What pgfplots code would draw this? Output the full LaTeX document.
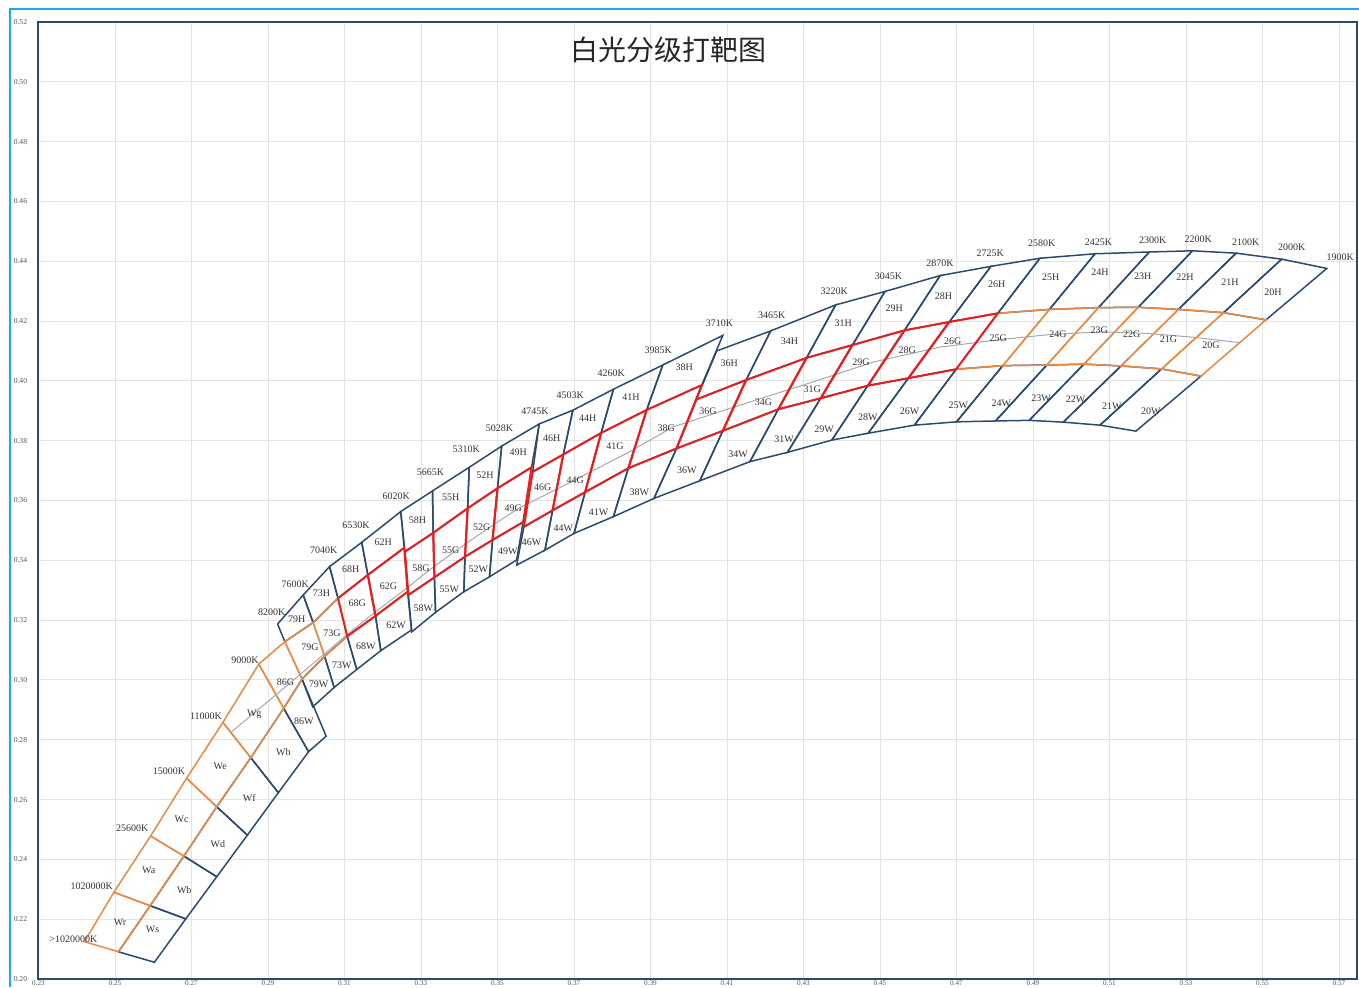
\documentclass[border=0pt]{standalone}
\usepackage{fontspec}
\setmainfont{Liberation Serif}
\newfontfamily\cjk{Noto Sans CJK SC}
\usepackage{pgfplots}
\pgfplotsset{compat=1.18}
\definecolor{nv}{HTML}{2C4A6E}
\definecolor{rd}{HTML}{E3201F}
\definecolor{og}{HTML}{E98A45}
\definecolor{gy}{HTML}{A8A8A8}
\definecolor{gridc}{HTML}{E4E4E4}
\definecolor{cy}{HTML}{1AAEE8}
\definecolor{txt}{HTML}{333333}
\definecolor{tickc}{HTML}{555555}
\tikzset{
  nvs/.style={draw=nv, line width=0.75pt},
  ogs/.style={draw=og, line width=0.75pt},
  rds/.style={draw=rd, line width=1pt},
  lab/.style={font=\fontsize{5}{6}\selectfont, text=txt, inner sep=0pt},
}
% ---- isotherm points (x,y) : T=top, H=H/G border, G=G/W border, B=bottom
\def\QaL{(0.2420,0.2125)}\def\QaM{(0.2509,0.2091)}\def\QaR{(0.2603,0.2056)}
\def\QbL{(0.2497,0.2290)}\def\QbM{(0.2592,0.2245)}\def\QbR{(0.2685,0.2201)}
\def\QcL{(0.2593,0.2478)}\def\QcM{(0.2680,0.2411)}\def\QcR{(0.2766,0.2342)}
\def\QdL{(0.2687,0.2671)}\def\QdM{(0.2766,0.2576)}\def\QdR{(0.2846,0.2481)}
\def\QeL{(0.2782,0.2858)}\def\QeM{(0.2855,0.2740)}\def\QeR{(0.2927,0.2623)}
\def\QfL{(0.2876,0.3053)}\def\QfM{(0.2941,0.2905)}\def\QfR{(0.3006,0.2760)}
\def\QgT{(0.2925,0.3187)}\def\QgH{(0.2944,0.3128)}\def\QgG{(0.2989,0.3003)}\def\QgB{(0.3017,0.2910)}\def\QgX{(0.3052,0.2812)}
\def\QhT{(0.2992,0.3284)}\def\QhH{(0.3018,0.3192)}\def\QhG{(0.3048,0.3079)}\def\QhB{(0.3073,0.2975)}
\def\QiT{(0.3061,0.3379)}\def\QiH{(0.3083,0.3273)}\def\QiG{(0.3107,0.3146)}\def\QiB{(0.3132,0.3035)}
\def\QjT{(0.3145,0.3460)}\def\QjH{(0.3161,0.3351)}\def\QjG{(0.3181,0.3214)}\def\QjB{(0.3195,0.3098)}
\def\QkaT{(0.3247,0.3563)}\def\QkaH{(0.3256,0.3442)}\def\QkaG{(0.3265,0.3295)}\def\QkaB{(0.3275,0.3167)}
\def\QkbT{(0.3247,0.3563)}\def\QkbH{(0.3258,0.3429)}\def\QkbG{(0.3267,0.3284)}\def\QkbB{(0.3276,0.3161)}
\def\QlT{(0.3330,0.3632)}\def\QlH{(0.3332,0.3492)}\def\QlG{(0.3335,0.3343)}\def\QlB{(0.3338,0.3226)}
\def\QmT{(0.3426,0.3711)}\def\QmH{(0.3422,0.3574)}\def\QmG{(0.3415,0.3412)}\def\QmB{(0.3412,0.3295)}
\def\QnT{(0.3511,0.3782)}\def\QnH{(0.3500,0.3641)}\def\QnG{(0.3487,0.3468)}\def\QnB{(0.3479,0.3345)}
\def\QoaT{(0.3609,0.3856)}\def\QoaH{(0.3589,0.3711)}\def\QoaG{(0.3567,0.3528)}\def\QoaB{(0.3550,0.3401)}
\def\QobT{(0.3609,0.3856)}\def\QobH{(0.3592,0.3696)}\def\QobG{(0.3569,0.3512)}\def\QobB{(0.3550,0.3384)}
\def\QpT{(0.3697,0.3902)}\def\QpH{(0.3672,0.3754)}\def\QpG{(0.3644,0.3567)}\def\QpB{(0.3624,0.3434)}
\def\QqT{(0.3803,0.3972)}\def\QqH{(0.3771,0.3826)}\def\QqG{(0.3729,0.3628)}\def\QqB{(0.3700,0.3490)}
\def\QrT{(0.3932,0.4053)}\def\QrH{(0.3890,0.3903)}\def\QrG{(0.3842,0.3708)}\def\QrB{(0.3803,0.3546)}
\def\QsaT{(0.4089,0.4152)}\def\QsaH{(0.4034,0.3986)}\def\QsaG{(0.3968,0.3774)}\def\QsaB{(0.3909,0.3607)}
\def\QsbT{(0.4073,0.4100)}\def\QsbH{(0.4020,0.3938)}\def\QsbG{(0.3968,0.3774)}\def\QsbB{(0.3909,0.3607)}
\def\QtT{(0.4214,0.4167)}\def\QtH{(0.4150,0.4003)}\def\QtG{(0.4089,0.3833)}\def\QtB{(0.4029,0.3666)}
\def\QuT{(0.4384,0.4254)}\def\QuH{(0.4308,0.4077)}\def\QuG{(0.4234,0.3905)}\def\QuB{(0.4160,0.3730)}
\def\QvT{(0.4513,0.4299)}\def\QvH{(0.4428,0.4120)}\def\QvG{(0.4345,0.3942)}\def\QvB{(0.4258,0.3761)}
\def\QwT{(0.4657,0.4352)}\def\QwH{(0.4564,0.4169)}\def\QwG{(0.4468,0.3984)}\def\QwB{(0.4374,0.3802)}
\def\QxT{(0.4790,0.4383)}\def\QxH{(0.4681,0.4197)}\def\QxG{(0.4574,0.4009)}\def\QxB{(0.4469,0.3825)}
\def\QyT{(0.4918,0.4410)}\def\QyH{(0.4808,0.4226)}\def\QyG{(0.4699,0.4039)}\def\QyB{(0.4590,0.3852)}
\def\QzT{(0.5062,0.4425)}\def\QzH{(0.4943,0.4239)}\def\QzG{(0.4821,0.4051)}\def\QzB{(0.4700,0.3863)}
\def\QaaT{(0.5204,0.4431)}\def\QaaH{(0.5071,0.4245)}\def\QaaG{(0.4936,0.4053)}\def\QaaB{(0.4802,0.3866)}
\def\QbbT{(0.5317,0.4435)}\def\QbbH{(0.5175,0.4246)}\def\QbbG{(0.5033,0.4056)}\def\QbbB{(0.4890,0.3868)}
\def\QccT{(0.5431,0.4427)}\def\QccH{(0.5280,0.4239)}\def\QccG{(0.5130,0.4050)}\def\QccB{(0.4979,0.3862)}
\def\QddT{(0.5550,0.4407)}\def\QddH{(0.5398,0.4228)}\def\QddG{(0.5236,0.4040)}\def\QddB{(0.5075,0.3852)}
\def\QeeT{(0.5668,0.4376)}\def\QeeH{(0.5509,0.4204)}\def\QeeG{(0.5339,0.4016)}\def\QeeB{(0.5169,0.3832)}
\newcommand{\cell}[5]{\edef\celltmp{\noexpand\addplot[#1, mark=none] coordinates {#2 #3 #4 #5 #2};}\celltmp}
\newcommand{\Hc}[3]{\cell{#1}{\csname Q#2T\endcsname}{\csname Q#3T\endcsname}{\csname Q#3H\endcsname}{\csname Q#2H\endcsname}}
\newcommand{\Gc}[3]{\cell{#1}{\csname Q#2H\endcsname}{\csname Q#3H\endcsname}{\csname Q#3G\endcsname}{\csname Q#2G\endcsname}}
\newcommand{\Wc}[3]{\cell{#1}{\csname Q#2G\endcsname}{\csname Q#3G\endcsname}{\csname Q#3B\endcsname}{\csname Q#2B\endcsname}}
\newcommand{\lb}[3]{\node[lab] at (axis cs:#1,#2) {#3};}
\begin{document}
\begin{tikzpicture}
\begin{axis}[
  name=ax, at={(0,0)}, anchor=south west,
  width=659.25pt, height=478.5pt, scale only axis,
  xmin=0.23, xmax=0.5747, ymin=0.20, ymax=0.52,
  xtick={0.23,0.25,0.27,0.29,0.31,0.33,0.35,0.37,0.39,0.41,0.43,0.45,0.47,0.49,0.51,0.53,0.55,0.57},
  ytick={0.20,0.22,0.24,0.26,0.28,0.30,0.32,0.34,0.36,0.38,0.40,0.42,0.44,0.46,0.48,0.50,0.52},
  grid=major, major grid style={draw=gridc, line width=0.5pt},
  axis line style={draw=nv, line width=1pt},
  major tick length=0pt, tick style={draw=none},
  xticklabel style={font=\fontsize{3.6}{4}\selectfont, text=tickc, anchor=north, inner sep=0pt, yshift=-0.7pt,
    /pgf/number format/fixed, /pgf/number format/fixed zerofill, /pgf/number format/precision=2, /pgf/number format/assume math mode=true},
  yticklabel style={font=\fontsize{3.8}{4}\selectfont, text=tickc, anchor=east, inner sep=0pt, xshift=-5.5pt,
    /pgf/number format/fixed, /pgf/number format/fixed zerofill, /pgf/number format/precision=2, /pgf/number format/assume math mode=true},
  clip=false,
]
% navy cells
\cell{nvs}{\QaM}{\QbM}{\QbR}{\QaR}
\cell{nvs}{\QbM}{\QcM}{\QcR}{\QbR}
\cell{nvs}{\QcM}{\QdM}{\QdR}{\QcR}
\cell{nvs}{\QdM}{\QeM}{\QeR}{\QdR}
\cell{nvs}{\QeM}{\QfM}{\QfR}{\QeR}
\cell{nvs}{\QfM}{\QgG}{\QgX}{\QfR}
\Hc{nvs}{g}{h}\Wc{nvs}{g}{h}
\Hc{nvs}{h}{i}\Wc{nvs}{h}{i}
\Hc{nvs}{i}{j}\Wc{nvs}{i}{j}
\Hc{nvs}{j}{ka}\Wc{nvs}{j}{ka}
\Hc{nvs}{kb}{l}\Wc{nvs}{kb}{l}
\Hc{nvs}{l}{m}\Wc{nvs}{l}{m}
\Hc{nvs}{m}{n}\Wc{nvs}{m}{n}
\Hc{nvs}{n}{oa}\Wc{nvs}{n}{oa}
\Hc{nvs}{ob}{p}\Wc{nvs}{ob}{p}
\Hc{nvs}{p}{q}\Wc{nvs}{p}{q}
\Hc{nvs}{q}{r}\Wc{nvs}{q}{r}
\Hc{nvs}{r}{sa}\Wc{nvs}{r}{sa}
\Hc{nvs}{sb}{t}\Wc{nvs}{sb}{t}
\Hc{nvs}{t}{u}\Wc{nvs}{t}{u}
\Hc{nvs}{u}{v}\Wc{nvs}{u}{v}
\Hc{nvs}{v}{w}\Wc{nvs}{v}{w}
\Hc{nvs}{w}{x}\Wc{nvs}{w}{x}
\Hc{nvs}{x}{y}\Wc{nvs}{x}{y}
\Hc{nvs}{y}{z}\Wc{nvs}{y}{z}
\Hc{nvs}{z}{aa}\Wc{nvs}{z}{aa}
\Hc{nvs}{aa}{bb}\Wc{nvs}{aa}{bb}
\Hc{nvs}{bb}{cc}\Wc{nvs}{bb}{cc}
\Hc{nvs}{cc}{dd}\Wc{nvs}{cc}{dd}
\Hc{nvs}{dd}{ee}\Wc{nvs}{dd}{ee}
% orange cells
\cell{ogs}{\QaL}{\QbL}{\QbM}{\QaM}
\cell{ogs}{\QbL}{\QcL}{\QcM}{\QbM}
\cell{ogs}{\QcL}{\QdL}{\QdM}{\QcM}
\cell{ogs}{\QdL}{\QeL}{\QeM}{\QdM}
\cell{ogs}{\QeL}{\QfL}{\QfM}{\QeM}
\cell{ogs}{\QfL}{\QgH}{\QgG}{\QfM}
\Gc{ogs}{g}{h}\Gc{ogs}{h}{i}
\Gc{ogs}{y}{z}\Gc{ogs}{z}{aa}\Gc{ogs}{aa}{bb}\Gc{ogs}{bb}{cc}\Gc{ogs}{cc}{dd}\Gc{ogs}{dd}{ee}
% Planckian locus
\addplot[draw=gy, line width=0.5pt, mark=none] coordinates {
(0.2805,0.2827) (0.2942,0.2973) (0.3101,0.3145) (0.3167,0.3214) (0.3263,0.3307) (0.3315,0.3361)
(0.3393,0.3434) (0.3480,0.3511) (0.3554,0.3573) (0.3703,0.3669) (0.3854,0.3769) (0.3959,0.3846)
(0.4134,0.3919) (0.4348,0.4006) (0.4482,0.4063) (0.4657,0.4113) (0.4814,0.4138) (0.4944,0.4155)
(0.5075,0.4164) (0.5198,0.4159) (0.5318,0.4146) (0.5439,0.4128)};
% red cells
\Gc{rds}{i}{j}\Gc{rds}{j}{ka}
\Gc{rds}{kb}{l}\Gc{rds}{l}{m}\Gc{rds}{m}{n}\Gc{rds}{n}{oa}
\Gc{rds}{ob}{p}\Gc{rds}{p}{q}\Gc{rds}{q}{r}\Gc{rds}{r}{sa}
\Gc{rds}{sb}{t}\Gc{rds}{t}{u}\Gc{rds}{u}{v}\Gc{rds}{v}{w}\Gc{rds}{w}{x}\Gc{rds}{x}{y}
% title
\node[font=\cjk\fontsize{14}{16}\selectfont, text=black!85] at (axis cs:0.3946,0.5106) {白光分级打靶图};
% H labels
\lb{0.5527}{0.4298}{20H}\lb{0.5415}{0.4330}{21H}\lb{0.5297}{0.4346}{22H}\lb{0.5187}{0.4351}{23H}
\lb{0.5075}{0.4365}{24H}\lb{0.4946}{0.4348}{25H}\lb{0.4805}{0.4323}{26H}\lb{0.4666}{0.4284}{28H}
\lb{0.4537}{0.4243}{29H}\lb{0.4404}{0.4192}{31H}\lb{0.4263}{0.4131}{34H}\lb{0.4106}{0.4059}{36H}
\lb{0.3988}{0.4047}{38H}\lb{0.3849}{0.3947}{41H}\lb{0.3736}{0.3875}{44H}\lb{0.3642}{0.3808}{46H}
\lb{0.3554}{0.3761}{49H}\lb{0.3467}{0.3685}{52H}\lb{0.3378}{0.3611}{55H}\lb{0.3291}{0.3535}{58H}
\lb{0.3201}{0.3462}{62H}\lb{0.3116}{0.3370}{68H}\lb{0.3040}{0.3290}{73H}\lb{0.2975}{0.3203}{79H}
% G labels
\lb{0.5365}{0.4119}{20G}\lb{0.5254}{0.4139}{21G}\lb{0.5158}{0.4156}{22G}\lb{0.5073}{0.4168}{23G}
\lb{0.4965}{0.4156}{24G}\lb{0.4809}{0.4143}{25G}\lb{0.4690}{0.4131}{26G}\lb{0.4571}{0.4103}{28G}
\lb{0.4450}{0.4064}{29G}\lb{0.4323}{0.3972}{31G}\lb{0.4195}{0.3930}{34G}\lb{0.4050}{0.3900}{36G}
\lb{0.3941}{0.3841}{38G}\lb{0.3807}{0.3780}{41G}\lb{0.3703}{0.3669}{44G}\lb{0.3618}{0.3644}{46G}
\lb{0.3541}{0.3574}{49G}\lb{0.3459}{0.3512}{52G}\lb{0.3378}{0.3434}{55G}\lb{0.3300}{0.3375}{58G}
\lb{0.3215}{0.3312}{62G}\lb{0.3133}{0.3256}{68G}\lb{0.3067}{0.3156}{73G}\lb{0.3010}{0.3111}{79G}
\lb{0.2946}{0.2991}{86G}
% W labels
\lb{0.5208}{0.3899}{20W}\lb{0.5106}{0.3916}{21W}\lb{0.5011}{0.3938}{22W}\lb{0.4921}{0.3942}{23W}
\lb{0.4817}{0.3924}{24W}\lb{0.4705}{0.3919}{25W}\lb{0.4577}{0.3897}{26W}\lb{0.4468}{0.3877}{28W}
\lb{0.4354}{0.3838}{29W}\lb{0.4249}{0.3806}{31W}\lb{0.4129}{0.3756}{34W}\lb{0.3995}{0.3702}{36W}
\lb{0.3871}{0.3627}{38W}\lb{0.3764}{0.3559}{41W}\lb{0.3672}{0.3507}{44W}\lb{0.3589}{0.3462}{46W}
\lb{0.3527}{0.3429}{49W}\lb{0.3450}{0.3370}{52W}\lb{0.3374}{0.3303}{55W}\lb{0.3306}{0.3240}{58W}
\lb{0.3235}{0.3184}{62W}\lb{0.3156}{0.3111}{68W}\lb{0.3093}{0.3050}{73W}\lb{0.3032}{0.2986}{79W}
\lb{0.2994}{0.2863}{86W}
% W-region labels
\lb{0.2513}{0.2188}{Wr}\lb{0.2598}{0.2166}{Ws}\lb{0.2588}{0.2364}{Wa}\lb{0.2681}{0.2298}{Wb}
\lb{0.2674}{0.2534}{Wc}\lb{0.2769}{0.2450}{Wd}\lb{0.2775}{0.2710}{We}\lb{0.2851}{0.2606}{Wf}
\lb{0.2864}{0.2885}{Wg}\lb{0.2940}{0.2760}{Wh}
% CCT labels
\lb{0.2391}{0.2133}{>1020000K}\lb{0.2439}{0.2311}{1020000K}\lb{0.2545}{0.2504}{25600K}
\lb{0.2641}{0.2696}{15000K}\lb{0.2738}{0.2880}{11000K}\lb{0.2840}{0.3067}{9000K}
\lb{0.2910}{0.3228}{8200K}\lb{0.2971}{0.3321}{7600K}\lb{0.3046}{0.3434}{7040K}
\lb{0.3130}{0.3516}{6530K}\lb{0.3235}{0.3613}{6020K}\lb{0.3325}{0.3693}{5665K}
\lb{0.3418}{0.3771}{5310K}\lb{0.3505}{0.3843}{5028K}\lb{0.3598}{0.3899}{4745K}
\lb{0.3690}{0.3953}{4503K}\lb{0.3797}{0.4025}{4260K}\lb{0.3920}{0.4103}{3985K}
\lb{0.4080}{0.4194}{3710K}\lb{0.4217}{0.4220}{3465K}\lb{0.4380}{0.4301}{3220K}
\lb{0.4522}{0.4351}{3045K}\lb{0.4657}{0.4395}{2870K}\lb{0.4788}{0.4427}{2725K}
\lb{0.4923}{0.4460}{2580K}\lb{0.5071}{0.4465}{2425K}\lb{0.5213}{0.4469}{2300K}
\lb{0.5332}{0.4473}{2200K}\lb{0.5456}{0.4462}{2100K}\lb{0.5576}{0.4447}{2000K}
\lb{0.5703}{0.4415}{1900K}
\end{axis}
\draw[cy, line width=1pt] (-14pt,-4pt) -- (-14pt,484.75pt) -- (660.25pt,484.75pt);
\pgfresetboundingbox
\useasboundingbox (-19.25pt,-4pt) rectangle (660.25pt,489.5pt);
\end{tikzpicture}
\end{document}
